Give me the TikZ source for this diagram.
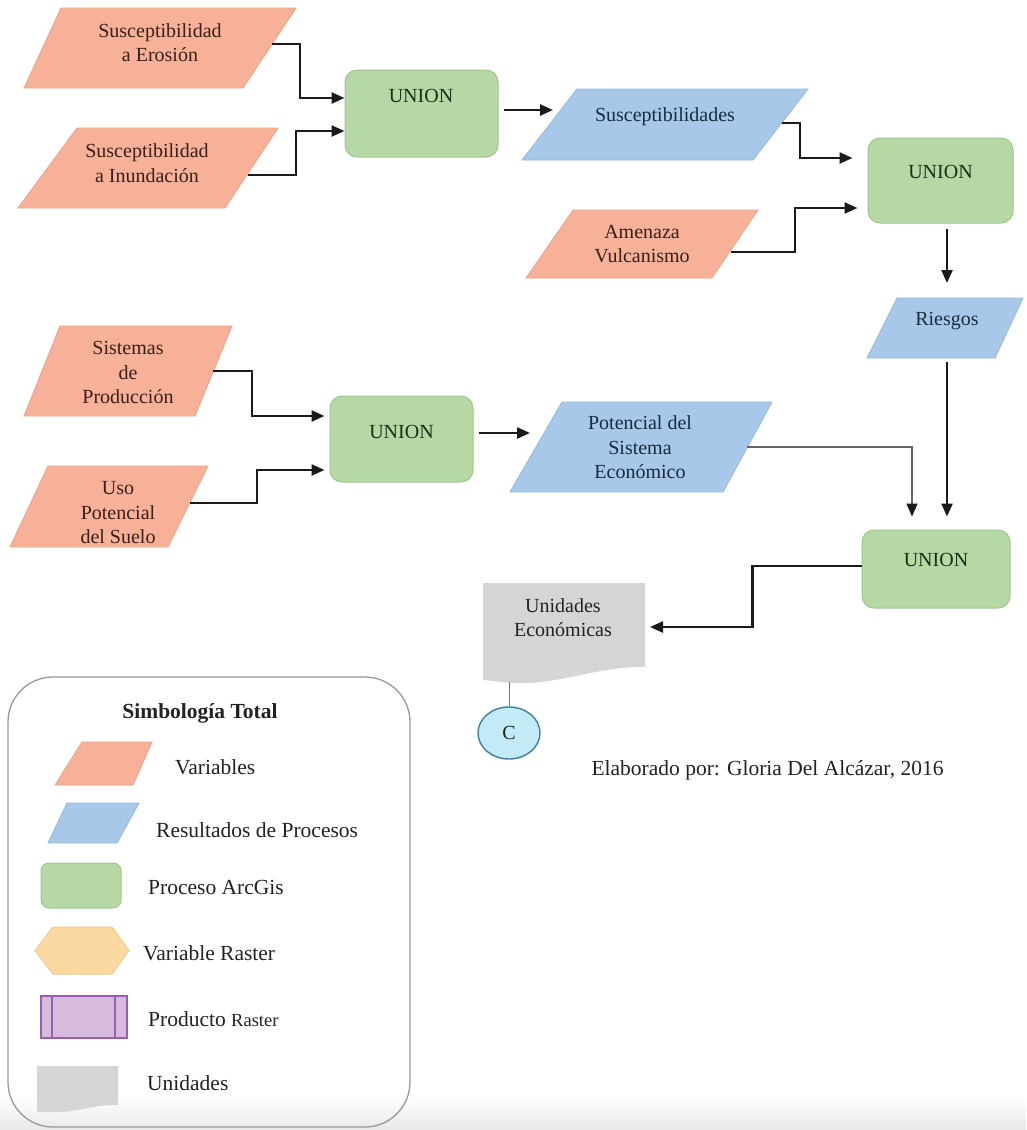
\documentclass[tikz,border=0pt]{standalone}
\usepackage{fontspec}
\setmainfont{Liberation Serif}
\usetikzlibrary{arrows.meta,shapes.geometric}

\definecolor{varfill}{HTML}{F6B198}
\definecolor{vardraw}{HTML}{EDA286}
\definecolor{resfill}{HTML}{A8C8EA}
\definecolor{resdraw}{HTML}{95B6DC}
\definecolor{procfill}{HTML}{B6D8A4}
\definecolor{procdraw}{HTML}{9DC78B}
\definecolor{docfill}{HTML}{D5D5D5}
\definecolor{hexfill}{HTML}{FDD9A2}
\definecolor{hexdraw}{HTML}{F4C88C}
\definecolor{rasfill}{HTML}{D8BADB}
\definecolor{rasdraw}{HTML}{9A5DB4}
\definecolor{conn}{HTML}{1A1A1A}
\definecolor{circfill}{HTML}{C2EAF7}
\definecolor{circdraw}{HTML}{3F7F9E}
\definecolor{txtvar}{HTML}{3A1F18}
\definecolor{txtres}{HTML}{1A2A3E}
\definecolor{txtproc}{HTML}{183018}
\definecolor{txtgen}{HTML}{222222}

% parallelogram: style, top-left x, top-right x, top y, bottom-left x, bottom-right x, bottom y
\newcommand{\pgram}[7]{\path[#1] (#2,#4) -- (#3,#4) -- (#6,#7) -- (#5,#7) -- cycle;}

\begin{document}
\begin{tikzpicture}[x=1pt,y=-1pt,
  every node/.style={inner sep=0pt},
  var/.style={fill=varfill, draw=vardraw, line width=0.8pt},
  res/.style={fill=resfill, draw=resdraw, line width=0.8pt},
  proc/.style={rectangle, rounded corners=12pt, fill=procfill, draw=procdraw, line width=1pt},
  lbl/.style={font=\fontsize{20}{24.5}\selectfont, align=center},
  vlbl/.style={lbl, text=txtvar},
  rlbl/.style={lbl, text=txtres},
  plbl/.style={lbl, text=txtproc},
  leg/.style={font=\fontsize{21.5}{26}\selectfont, text=txtgen, anchor=west},
  arr/.style={draw=conn, line width=2.4pt, -{Triangle[length=13pt,width=11pt]}},
  thinarr/.style={draw=black!60, line width=1.4pt, -{Triangle[length=13pt,width=11pt]}, arrows={[color=conn]}},
  docshape/.style={fill=docfill},
]
\useasboundingbox (0,0) rectangle (1026,1130);
\fill[white] (0,0) rectangle (1026,1130);
\shade[top color=white, bottom color=black!9] (0,1096) rectangle (1026,1130);

% ---------- inputs and results ----------
\pgram{var}{61}{296}{8}{24}{243}{88}
\node[vlbl] (ero) at (160,42.5) {Susceptibilidad\\a Erosión};
\pgram{var}{77}{278}{128}{18}{225}{208}
\node[vlbl] (inu) at (147,163) {Susceptibilidad\\a Inundación};
\pgram{res}{577}{808}{89}{522}{753}{160}
\node[rlbl] (sus) at (665,117) {Susceptibilidades};
\pgram{var}{573}{758}{210}{526}{712}{278}
\node[vlbl] (ame) at (642,244) {Amenaza\\Vulcanismo};
\pgram{res}{897}{1023}{298}{867}{995}{358}
\node[rlbl] (ries) at (947,321) {Riesgos};
\pgram{var}{60}{232}{326}{24}{195}{416}
\node[vlbl] (sis) at (128,372.5) {Sistemas\\de\\Producción};
\pgram{var}{48}{208}{466}{10}{168}{547}
\node[vlbl] (uso) at (118,513) {Uso\\Potencial\\del Suelo};
\pgram{res}{562}{772}{402}{510}{723}{492}
\node[rlbl] (pot) at (640,447.5) {Potencial del\\Sistema\\Económico};

% ---------- processes ----------
\node[proc, minimum width=153pt, minimum height=87pt] (u1) at (421.5,113.5) {};
\node[plbl] (u1t) at (421,96) {UNION};
\node[proc, minimum width=145pt, minimum height=85pt] (u2) at (940.5,180.5) {};
\node[plbl] (u2t) at (940.5,171.5) {UNION};
\node[proc, minimum width=143pt, minimum height=86pt] (um) at (401.5,439) {};
\node[plbl] (umt) at (401.5,431.5) {UNION};
\node[proc, minimum width=148pt, minimum height=78pt] (u3) at (936,569) {};
\node[plbl] (u3t) at (936,560) {UNION};

% ---------- output document ----------
\path[docshape] (483,583) -- (645,583) -- (645,667)
  .. controls (600,666) and (560,684) .. (520,683)
  .. controls (505,683) and (495,681) .. (483,680) -- cycle;
\node[lbl, text=txtgen] (unid) at (563,617.5) {Unidades\\Económicas};
\coordinate (unid-bot) at (509,682);
\node[ellipse, fill=circfill, draw=circdraw, line width=1.4pt,
      minimum width=62pt, minimum height=52pt,
      font=\fontsize{20}{24}\selectfont, text=txtgen] (c) at (509,733) {C};
\draw[black!55, line width=1pt] (unid-bot) -- (c.north);

% ---------- connector end points on slanted edges ----------
\coordinate (ero-out) at (272,44);
\coordinate (inu-out) at (248,175);
\coordinate (sus-in) at (553,110);
\coordinate (sus-out) at (782,123);
\coordinate (ame-out) at (731,252);
\coordinate (ries-in) at (947,283);
\coordinate (ries-out) at (947,362);
\coordinate (sis-out) at (213,371);
\coordinate (uso-out) at (190,503);
\coordinate (pot-in) at (530,433);
\coordinate (pot-out) at (747,447);
\coordinate (unid-in) at (650,627);

% ---------- connectors ----------
\draw[arr] (ero-out) -- ++(28,0) |- ([yshift=15.5pt]u1.west);
\draw[arr] (inu-out) -- ++(48,0) |- ([yshift=-17.5pt]u1.west);
\draw[arr] ([xshift=5pt,yshift=3.5pt]u1.east) -- (sus-in);
\draw[arr] (sus-out) -- ++(18,0) |- ([xshift=-15pt,yshift=22.5pt]u2.west);
\draw[arr] (ame-out) -- ++(64,0) |- ([xshift=-10pt,yshift=-27.5pt]u2.west);
\draw[arr] ([xshift=6.5pt,yshift=-5pt]u2.south) -- (ries-in);
\draw[arr] (ries-out) -- ([xshift=11pt,yshift=13pt]u3.north);
\draw[arr] (sis-out) -- ++(39,0) |- ([xshift=-5pt,yshift=23pt]um.west);
\draw[arr] (uso-out) -- ++(67,0) |- ([xshift=-5pt,yshift=-31pt]um.west);
\draw[arr] ([xshift=5pt,yshift=6pt]um.east) -- (pot-in);
\draw[thinarr] (pot-out) -| ([xshift=-24pt,yshift=13pt]u3.north);
\draw[arr] ([yshift=3pt]u3.west) -- ++(-109,0) |- (unid-in);

% ---------- credit ----------
\node[font=\fontsize{21.5}{26}\selectfont, text=txtgen] (credit) at (767.5,770)
  {Elaborado por: Gloria Del Alcázar, 2016};

% ---------- legend ----------
\draw[black!40, line width=1.3pt, rounded corners=45pt] (8,677) rectangle (410,1127);
\node[font=\bfseries\fontsize{21.5}{26}\selectfont, text=txtgen] (legt) at (200,713) {Simbología Total};

\pgram{var}{82}{152}{742}{55}{133}{785}
\node[leg] (legvar) at (175,767) {Variables};
\pgram{res}{67}{139}{803}{48}{117}{843}
\node[leg] (legres) at (156,830) {Resultados de Procesos};
\path[fill=procfill, draw=procdraw, line width=1pt, rounded corners=8pt] (41,863) rectangle (121,908);
\node[leg] (legproc) at (148,887) {Proceso ArcGis};
\path[fill=hexfill, draw=hexdraw, line width=1pt]
  (35,950.5) -- (53,927) -- (112,927) -- (129,950.5) -- (112,974) -- (53,974) -- cycle;
\node[leg] (leghex) at (143,953) {Variable Raster};
\path[fill=rasfill, draw=rasdraw, line width=1.5pt] (41,996) rectangle (127,1038);
\draw[rasdraw, line width=1.5pt] (52,996) -- (52,1038) (115,996) -- (115,1038);
\node[leg] (legras) at (148,1019) {Producto {\fontsize{18.5}{22}\selectfont Raster}};
\path[docshape] (37,1066) -- (118,1066) -- (118,1105)
  .. controls (95,1104) and (75,1113) .. (55,1112) -- (37,1112) -- cycle;
\node[leg] (legdoc) at (147,1083) {Unidades};
\end{tikzpicture}
\end{document}
